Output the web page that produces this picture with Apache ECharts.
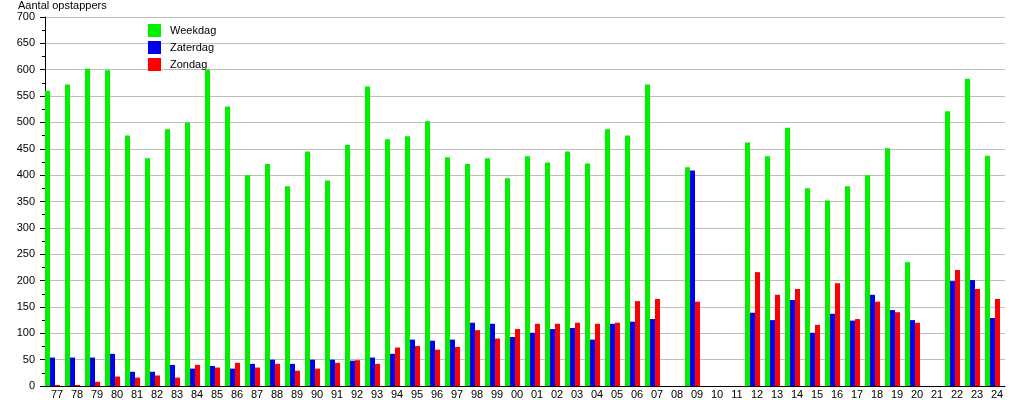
<!DOCTYPE html>
<html>
<head>
<meta charset="utf-8">
<script src="https://cdn.jsdelivr.net/npm/echarts@6/dist/echarts.min.js"></script>
<style>
html,body{margin:0;padding:0;background:#fff;}
#chart{width:1015px;height:400px;}
</style>
</head>
<body>
<div id="chart"></div>
<script>
var categories = ['77','78','79','80','81','82','83','84','85','86','87','88','89','90','91','92','93','94','95','96','97','98','99','00','01','02','03','04','05','06','07','08','09','10','11','12','13','14','15','16','17','18','19','20','21','22','23','24'];
var weekdag = [560,572,602,599,475,432,487,500,600,530,400,421,379,445,390,457,568,468,474,502,434,421,432,394,436,424,445,422,487,475,572,null,415,null,null,462,436,490,375,352,379,400,451,235,null,521,583,437];
var zaterdag = [54,54,54,61,27,27,40,33,38,33,42,50,42,50,50,48,54,61,88,86,88,120,118,93,101,108,110,88,118,122,127,null,409,null,null,139,125,163,101,137,124,173,144,125,null,199,201,129];
var zondag = [2,2,8,18,16,20,16,40,35,44,35,42,29,33,44,49,42,73,76,69,74,106,90,108,118,118,120,118,120,161,165,null,160,null,null,216,173,184,116,195,127,160,140,120,null,220,184,165];
var yTicks = {min:0, max:700, interval:50};

var chart = echarts.init(document.getElementById('chart'), null, {renderer:'canvas'});
var font = 'Liberation Sans, Arial, sans-serif';
chart.setOption({
  animation:false,
  backgroundColor:'#ffffff',
  title:{text:'Aantal opstappers', left:18, top:0, padding:0, textStyle:{fontFamily:font, fontSize:11, fontWeight:'normal', color:'#000'}},
  legend:{
    orient:'vertical', left:148, top:24, padding:0, itemWidth:13, itemHeight:13, itemGap:4,
    icon:'rect', data:['Weekdag','Zaterdag','Zondag'],
    textStyle:{fontFamily:font, fontSize:11, color:'#000', padding:[0,0,0,4]}
  },
  grid:{left:45, right:10, top:17, bottom:13, containLabel:false},
  xAxis:{
    type:'category', data:categories, boundaryGap:true,
    axisLine:{lineStyle:{color:'#000', width:1}},
    axisTick:{show:false},
    axisLabel:{interval:0, fontFamily:font, fontSize:11, color:'#000', margin:3, padding:[0,0,0,4]},
    splitLine:{show:false}
  },
  yAxis:{
    type:'value', min:yTicks.min, max:yTicks.max, interval:yTicks.interval,
    axisLine:{show:true, lineStyle:{color:'#000', width:1}},
    axisTick:{show:true, length:5, lineStyle:{color:'#000'}},
    minorTick:{show:true, splitNumber:2, length:3, lineStyle:{color:'#000'}},
    axisLabel:{fontFamily:font, fontSize:11, color:'#000', margin:10},
    splitLine:{show:true, lineStyle:{color:'#bdbdbd', width:1}}
  },
  series:[
    {name:'Weekdag', type:'bar', data:weekdag, barWidth:5, barGap:'0%', itemStyle:{color:'#00f000'}},
    {name:'Zaterdag', type:'bar', data:zaterdag, barWidth:5, barGap:'0%', itemStyle:{color:'#0000f0'}},
    {name:'Zondag', type:'bar', data:zondag, barWidth:5, barGap:'0%', itemStyle:{color:'#ff0000'}},
    {name:'spacer', type:'bar', data:[], barWidth:5, barGap:'0%', itemStyle:{color:'rgba(0,0,0,0)'}}
  ]
});
</script>
</body>
</html>
